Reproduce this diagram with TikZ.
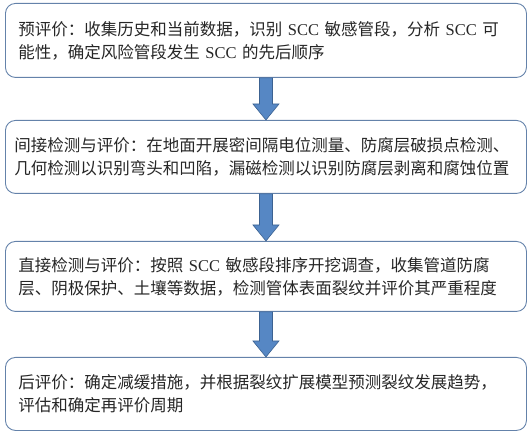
\documentclass[tikz,border=0pt]{standalone}
\usepackage{fontspec}
\setmainfont{Liberation Serif}
\newfontfamily\cjk{Noto Sans CJK SC}
\usetikzlibrary{calc}
\definecolor{boxline}{RGB}{100,130,170}
\definecolor{arrfill}{RGB}{86,135,196}
\definecolor{arrline}{RGB}{60,98,145}
\newcommand{\lat}[1]{{\rmfamily #1}}
% arrow from one stage box down to the next
\newcommand{\stagearrow}[2]{%
  \filldraw[fill=arrfill,draw=arrline,line width=0.6pt]
    ($(#1.south)+(-6.5,0)$) -- ($(#2.north)+(-6.5,16)$) -- ($(#2.north)+(-13,16)$)
    -- (#2.north) -- ($(#2.north)+(13,16)$) -- ($(#2.north)+(6.5,16)$)
    -- ($(#1.south)+(6.5,0)$) -- cycle;}

\begin{document}
\begin{tikzpicture}[x=1pt,y=1pt,
    stagebox/.style={draw=boxline,line width=0.9pt,rounded corners=10pt,
      anchor=north west,minimum width=521pt,text width=495pt,inner xsep=13pt,
      align=left,text=black!85,font=\cjk\fontsize{16.5}{23}\selectfont}]
  \useasboundingbox (0,0) rectangle (530,-435);

  % stage boxes
  \node[stagebox,minimum height=74pt] (pre) at (5,-3)
    {预评价：收集历史和当前数据，识别 \lat{SCC} 敏感管段，分析 \lat{SCC} 可\\
     能性，确定风险管段发生 \lat{SCC} 的先后顺序};
  \node[stagebox,minimum height=73pt,inner xsep=9pt,text width=503pt] (indirect) at (5,-120)
    {间接检测与评价：在地面开展密间隔电位测量、防腐层破损点检测、\\
     几何检测以识别弯头和凹陷，漏磁检测以识别防腐层剥离和腐蚀位置};
  \node[stagebox,minimum height=70pt] (direct) at (5,-241)
    {直接检测与评价：按照 \lat{SCC} 敏感段排序开挖调查，收集管道防腐\\
     层、阴极保护、土壤等数据，检测管体表面裂纹并评价其严重程度};
  \node[stagebox,minimum height=73pt] (post) at (5,-357)
    {后评价：确定减缓措施，并根据裂纹扩展模型预测裂纹发展趋势，\\
     评估和确定再评价周期};

  % arrows
  \stagearrow{pre}{indirect}
  \stagearrow{indirect}{direct}
  \stagearrow{direct}{post}
\end{tikzpicture}
\end{document}
